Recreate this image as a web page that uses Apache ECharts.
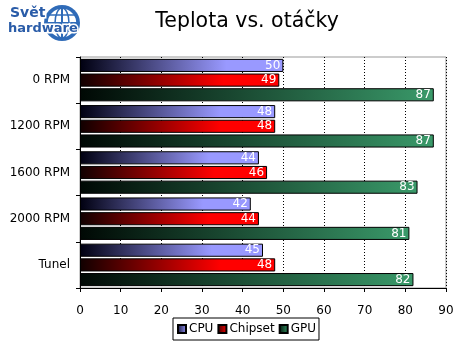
<!DOCTYPE html>
<html><head><meta charset="utf-8">
<script src="https://cdn.jsdelivr.net/npm/echarts@6/dist/echarts.min.js"></script>
<style>html,body{margin:0;padding:0;background:#fff}#c{width:458px;height:347px}</style>
</head><body><div id="c"></div>
<script>
const categories = ['0 RPM', '1200 RPM', '1600 RPM', '2000 RPM', 'Tunel'];
const cpu = [50, 48, 44, 42, 45];
const chipset = [49, 48, 46, 44, 48];
const gpu = [87, 87, 83, 81, 82];
const xTicks = [0, 10, 20, 30, 40, 50, 60, 70, 80, 90];
const titleText = 'Teplota vs. otáčky';

const FONT = 'DejaVu Sans';
function grad(dark, col, stop) {
  return new echarts.graphic.LinearGradient(0, 0, 1, 0, [
    {offset: 0, color: dark}, {offset: stop, color: col}, {offset: 1, color: col}
  ]);
}
function mk(name, data, dark, col, stop) {
  return {
    name: name, type: 'bar', data: data,
    barCategoryGap: '8%', barGap: '12%',
    itemStyle: {color: grad(dark, col, stop), borderColor: '#000', borderWidth: 1},
    label: {show: true, position: 'insideRight', distance: 3, color: '#fff',
      fontFamily: FONT, fontSize: 12},
    emphasis: {disabled: true}
  };
}
const chart = echarts.init(document.getElementById('c'), null, {renderer: 'canvas'});
chart.setOption({
  animation: false,
  backgroundColor: '#fff',
  title: {text: titleText, left: 242, top: 6, textAlign: 'center',
    textStyle: {fontFamily: FONT, fontSize: 20.5, fontWeight: 'normal', color: '#000'}},
  grid: {left: 80, right: 12, top: 57, bottom: 59, show: true, borderColor: '#999', borderWidth: 1},
  legend: {
    top: 318, left: 173,
    data: [
      {name: 'CPU', itemStyle: {color: grad('#101030', '#9999ff', 1)}},
      {name: 'Chipset', itemStyle: {color: grad('#300000', '#ff0000', 1)}},
      {name: 'GPU', itemStyle: {color: grad('#001008', '#339966', 1)}}
    ],
    icon: 'rect', itemWidth: 8, itemHeight: 8, itemGap: 4,
    borderColor: '#000', borderWidth: 1, padding: [5, 3, 5, 4],
    textStyle: {fontFamily: FONT, fontSize: 12, color: '#000', padding: [0, 0, 0, -2]},
    selectedMode: false
  },
  xAxis: {
    type: 'value', min: 0, max: 90, interval: 10,
    axisLine: {show: true, lineStyle: {color: '#000'}},
    axisTick: {show: true, length: 4, lineStyle: {color: '#000'}},
    axisLabel: {fontFamily: FONT, fontSize: 12, color: '#000', margin: 17,
      formatter: v => xTicks.includes(v) ? String(v) : ''},
    splitLine: {show: true, lineStyle: {color: '#000', type: [1, 2], width: 1}}
  },
  yAxis: {
    type: 'category', data: categories, inverse: true,
    axisLine: {show: true, lineStyle: {color: '#000'}},
    axisTick: {show: true, length: 4, lineStyle: {color: '#000'}},
    axisLabel: {fontFamily: FONT, fontSize: 12, color: '#000', margin: 10}
  },
  series: [
    mk('CPU', cpu, '#000010', '#9999ff', 0.72),
    mk('Chipset', chipset, '#100000', '#ff0000', 0.72),
    mk('GPU', gpu, '#000804', '#3a9a6a', 1)
  ],
  graphic: [
    {type: 'circle', shape: {cx: 62, cy: 23, r: 18}, style: {fill: '#2f6bb8'}},
    {type: 'circle', shape: {cx: 62, cy: 23, r: 15}, style: {fill: '#ffffff', stroke: '#2f6bb8', lineWidth: 1.5}},
    {type: 'line', shape: {x1: 47, y1: 23, x2: 77, y2: 23}, style: {stroke: '#2f6bb8', lineWidth: 2}},
    {type: 'line', shape: {x1: 62, y1: 8, x2: 62, y2: 38}, style: {stroke: '#2f6bb8', lineWidth: 2}},
    {type: 'ellipse', shape: {cx: 62, cy: 23, rx: 7, ry: 15}, style: {fill: 'none', stroke: '#2f6bb8', lineWidth: 1.5}},
    {type: 'line', shape: {x1: 49, y1: 15, x2: 75, y2: 15}, style: {stroke: '#2f6bb8', lineWidth: 1.5}},
    {type: 'line', shape: {x1: 49, y1: 31, x2: 75, y2: 31}, style: {stroke: '#2f6bb8', lineWidth: 1.5}},
    {type: 'text', x: 10, y: 6, style: {text: 'Svět', fill: '#2a5ca8', fontFamily: FONT, fontWeight: 'bold', fontSize: 14,
      stroke: '#fff', lineWidth: 3}},
    {type: 'text', x: 8, y: 22, style: {text: 'hardware', fill: '#2a5ca8', fontFamily: FONT, fontWeight: 'bold', fontSize: 13,
      stroke: '#fff', lineWidth: 3}}
  ]
});
</script></body></html>
